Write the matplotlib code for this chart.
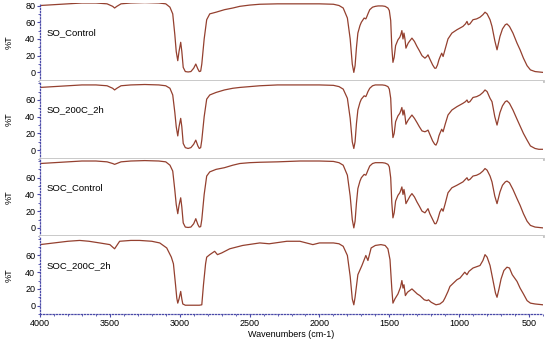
import matplotlib
matplotlib.use("Agg")
import matplotlib.pyplot as plt
from matplotlib.ticker import MultipleLocator, FixedLocator

plt.rcParams['font.family'] = ['Liberation Sans', 'DejaVu Sans']

# ---------------- data ----------------
sample_names = ["SO_Control", "SO_200C_2h", "SOC_Control", "SOC_200C_2h"]

wn_so = [4000, 3900, 3800, 3700, 3600, 3520, 3480, 3466, 3450, 3420, 3350, 3250, 3150, 3100,
         3070, 3050, 3035, 3025, 3014, 3005, 2993, 2985, 2975, 2960, 2940, 2920, 2900, 2885,
         2870, 2860, 2850, 2842, 2825, 2807, 2785, 2740, 2680, 2620, 2570, 2500, 2427, 2300,
         2140, 2000, 1900, 1860, 1830, 1800, 1780, 1765, 1754, 1745, 1735, 1725, 1710, 1700,
         1680, 1668, 1660, 1653, 1640, 1620, 1600, 1580, 1550, 1530, 1510, 1500, 1490, 1482,
         1474, 1465, 1455, 1438, 1425, 1418, 1410, 1402, 1395, 1388, 1381, 1365, 1352, 1338,
         1320, 1302, 1285, 1266, 1245, 1232, 1223, 1210, 1190, 1175, 1166, 1155, 1145, 1138,
         1125, 1115, 1100, 1080, 1052, 1016, 994, 973, 955, 944, 935, 923, 901, 875, 851, 830,
         815, 800, 779, 765, 745, 729, 715, 708, 690, 670, 658, 640, 615, 586, 564, 540, 514,
         490, 457, 430, 400]

t_so_control = [80, 81, 82, 83, 83, 82, 79, 77, 79, 82, 83, 83.5, 83, 82,
                78, 70, 45, 25, 14, 25, 36, 25, 6, 1, 0.5, 1, 5, 10,
                4, 1, 1.5, 10, 40, 63, 70, 72, 75, 77, 79, 80.5, 81.5, 82,
                82, 82, 81.5, 80, 77, 65, 40, 10, 0, 8, 30, 47, 56, 60,
                65, 64, 67, 70, 75, 78, 79, 79.5, 79.5, 79, 77, 74, 62, 30,
                12, 18, 32, 39, 42, 45, 50, 40, 47, 40, 29, 35, 38, 41,
                37, 31, 26, 20, 17, 19, 21, 16, 9, 5, 5, 9, 15, 18,
                23, 19, 28, 40, 47, 51, 53, 55, 58, 61, 57, 58, 63, 64, 66, 69,
                72, 70, 63, 55, 38, 27, 38, 43, 52, 57, 58, 55, 47, 35, 27, 17, 8,
                3, 1, 0.5, 0]

t_so_200c = [75, 76, 77, 78, 78, 77, 74, 72, 74, 77, 78, 78.5, 78, 77,
             74, 66, 45, 28, 17, 28, 38, 28, 8, 3, 2, 3, 7, 12,
             5, 2, 3, 12, 40, 61, 66, 69, 72, 74, 75, 76, 77, 78,
             78, 78, 77.5, 76, 73, 62, 38, 10, 2, 10, 32, 48, 57, 61,
             65, 64, 67, 70, 74, 77, 78, 78, 78, 77.5, 76, 73, 62, 32,
             15, 20, 34, 41, 44, 47, 51, 42, 48, 41, 31, 36, 39, 42,
             38, 33, 28, 23, 22, 23, 24, 19, 11, 7, 6, 10, 17, 20,
             25, 22, 31, 42, 48, 52, 54, 56, 58, 60, 57, 58, 63, 64, 66, 69,
             72, 70, 62, 58, 40, 30, 40, 45, 53, 58, 59, 56, 48, 37, 29, 20, 12,
             5, 2, 1, 1]

t_soc_control = [77, 78, 79, 80, 80, 79, 77, 76, 77, 79, 80, 80.5, 80, 79,
                 75, 68, 45, 28, 17, 27, 36, 25, 6, 1, 0.5, 1, 5, 11,
                 4, 1, 1.5, 10, 40, 62, 67, 70, 72, 75, 77, 78, 78.5, 79,
                 80, 80, 79.5, 78, 75, 63, 38, 10, 0, 8, 30, 47, 56, 60,
                 64, 63, 66, 69, 74, 77, 78, 78, 78, 77.5, 76, 73, 60, 30,
                 12, 18, 32, 39, 42, 45, 49, 40, 46, 39, 29, 34, 38, 41,
                 37, 31, 26, 20, 18, 21, 23, 17, 10, 5, 5, 9, 15, 19,
                 23, 20, 29, 42, 48, 51, 53, 55, 58, 60, 57, 58, 62, 63, 65, 68,
                 71, 69, 62, 55, 38, 29, 38, 43, 51, 55, 56, 54, 46, 35, 27, 17, 8,
                 3, 1, 0.5, 0]

wn_soc_200c = [4000, 3900, 3800, 3716, 3650, 3573, 3500, 3480, 3466, 3450, 3430, 3350, 3287,
               3200, 3143, 3093, 3060, 3045, 3030, 3021, 3014, 3005, 2993, 2985, 2978, 2960,
               2900, 2860, 2842, 2830, 2815, 2807, 2785, 2750, 2730, 2700, 2642, 2549, 2427,
               2360, 2233, 2140, 2047, 2000, 1900, 1860, 1830, 1800, 1780, 1765, 1754, 1745,
               1725, 1696, 1668, 1653, 1630, 1600, 1560, 1530, 1510, 1495, 1482, 1474, 1460,
               1438, 1420, 1410, 1402, 1395, 1385, 1370, 1338, 1300, 1281, 1250, 1230, 1220,
               1200, 1166, 1138, 1115, 1102, 1080, 1066, 1016, 994, 960, 944, 930, 901, 851,
               830, 815, 800, 779, 760, 740, 729, 715, 700, 680, 658, 640, 620, 586, 564, 540,
               514, 490, 457, 400]

t_soc_200c = [73, 75, 77, 78, 77, 75, 73, 70, 68, 72, 77, 78, 78,
              77, 75, 69, 58, 50, 25, 9, 3, 8, 17, 8, 2, 0.5,
              0.5, 0.5, 1, 25, 50, 58, 61, 65, 61, 63, 68, 72, 75,
              74, 77, 77, 73, 75, 75, 74, 71, 60, 35, 8, 1, 10,
              37, 48, 60, 54, 69, 72, 73, 72, 68, 55, 20, 3, 8,
              14, 22, 30, 21, 25, 12, 16, 20, 14, 12, 7, 6, 7,
              4, 1, 2, 5, 9, 17, 23, 31, 33, 40, 37, 41, 45, 48,
              54, 61, 58, 48, 32, 15, 10, 20, 32, 42, 46, 45, 37, 29, 21, 14,
              6, 3, 2, 1]

series = [(wn_so, t_so_control), (wn_so, t_so_200c), (wn_so, t_soc_control),
          (wn_soc_200c, t_soc_200c)]

x_major_ticks = [4000, 3500, 3000, 2500, 2000, 1500, 1000, 500]

# ---------------- figure ----------------
W, H = 550, 342
fig = plt.figure(figsize=(W / 100, H / 100), dpi=100)
left, right = 40 / W, 543 / W
top, bottom = 1 - 3 / H, 1 - 314 / H
ph = (top - bottom) / 4

line_color = '#94402f'
axis_blue = '#4a4aa8'
sep_gray = '#c4c4c4'

axes = []
for i, (name, (wn, t)) in enumerate(zip(sample_names, series)):
    b = top - (i + 1) * ph
    ax = fig.add_axes([left, b, right - left, ph])
    axes.append(ax)
    ax.plot(wn, t, color=line_color, lw=0.9)
    ax.set_xlim(4000, 400)
    ax.set_ylim(-10, 83)
    ax.text(3955, 48, name, fontsize=6.8, va='center', ha='left')
    ax.set_ylabel('%T', fontsize=6.5)
    ax.yaxis.set_label_coords(-0.052, 0.5)

    ax.spines['right'].set_visible(False)
    ax.spines['top'].set_visible(False)
    ax.spines['left'].set_linestyle((0, (1, 1.5)))
    ax.spines['left'].set_color(axis_blue)
    ax.spines['left'].set_linewidth(0.9)
    if i < 3:
        ax.spines['bottom'].set_color(sep_gray)
        ax.spines['bottom'].set_linewidth(2)
        ax.tick_params(axis='x', which='both', bottom=False, labelbottom=False)
    else:
        ax.spines['bottom'].set_linestyle((0, (1, 1.5)))
        ax.spines['bottom'].set_color(axis_blue)
        ax.spines['bottom'].set_linewidth(0.9)
        ax.xaxis.set_major_locator(FixedLocator(x_major_ticks))
        ax.xaxis.set_minor_locator(MultipleLocator(100))
        ax.tick_params(axis='x', which='major', length=2.5, color=axis_blue,
                       labelsize=6.5, pad=1)
        ax.tick_params(axis='x', which='minor', length=1.5, color=axis_blue)
        ax.set_xlabel('Wavenumbers (cm-1)', fontsize=6.5, labelpad=1.5)

    yt = [0, 20, 40, 60, 80] if i == 0 else [0, 20, 40, 60]
    ax.yaxis.set_major_locator(FixedLocator(yt))
    ax.yaxis.set_minor_locator(MultipleLocator(10))
    ax.tick_params(axis='y', which='major', length=2.5, color=axis_blue,
                   labelsize=6.5, pad=1)
    ax.tick_params(axis='y', which='minor', length=1.5, color=axis_blue)

fig.savefig('out.png', dpi=100)
